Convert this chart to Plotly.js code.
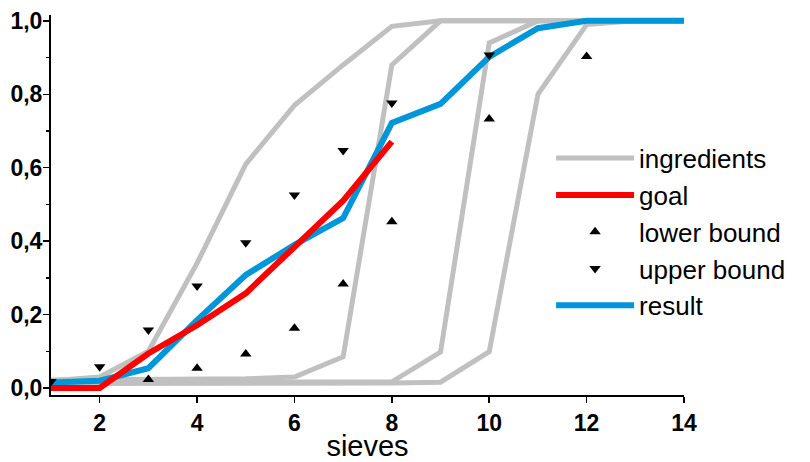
<!DOCTYPE html>
<html>
<head>
<meta charset="utf-8">
<script src="https://cdn.plot.ly/plotly-3.0.1.min.js"></script>
<style>html,body{margin:0;padding:0;background:#fff;}#chart{width:810px;height:462px;}</style>
</head>
<body>
<div id="chart"></div>
<script>
const sieves = [1, 2, 3, 4, 5, 6, 7, 8, 9, 10, 11, 12, 13, 14];
const ingredientA = [0.02, 0.03, 0.10, 0.34, 0.61, 0.77, 0.88, 0.985, 1, 1, 1, 1, 1, 1];
const ingredientB = [0.022, 0.022, 0.022, 0.022, 0.025, 0.03, 0.085, 0.88, 1, 1, 1, 1, 1, 1];
const ingredientC = [0.015, 0.015, 0.015, 0.015, 0.015, 0.015, 0.015, 0.017, 0.098, 0.94, 1, 1, 1, 1];
const ingredientD = [0.012, 0.012, 0.012, 0.012, 0.012, 0.012, 0.012, 0.014, 0.016, 0.099, 0.80, 0.99, 1, 1];
const goalX = [1, 2, 3, 4, 5, 6, 7, 8];
const goal = [0.0, 0.0, 0.094, 0.171, 0.258, 0.385, 0.51, 0.671];
const result = [0.015, 0.02, 0.054, 0.185, 0.308, 0.39, 0.463, 0.722, 0.774, 0.902, 0.98, 1.0, 1.0, 1.0];
const lowerX = [3, 4, 5, 6, 7, 8, 10, 12];
const lower = [0.023, 0.054, 0.093, 0.163, 0.283, 0.453, 0.733, 0.903];
const upperX = [1, 2, 3, 4, 5, 6, 7, 8, 10];
const upper = [0.018, 0.058, 0.158, 0.278, 0.396, 0.526, 0.647, 0.776, 0.907];

const GREY = '#c0c0c0', RED = '#ff0000', BLUE = '#0096d9';
const FONT = '"Liberation Sans", Arial, sans-serif';
const ingredients = [ingredientA, ingredientB, ingredientC, ingredientD];
const traces = ingredients.map((ys, i) => ({
  x: sieves, y: ys, type: 'scatter', mode: 'lines',
  name: 'ingredients', showlegend: i === 0, legendrank: 1,
  line: {color: GREY, width: 5}
}));
traces.push({x: sieves, y: result, type: 'scatter', mode: 'lines', name: 'result', legendrank: 5,
  line: {color: BLUE, width: 6}});
traces.push({x: goalX, y: goal, type: 'scatter', mode: 'lines', name: 'goal', legendrank: 2,
  line: {color: RED, width: 6}});
traces.push({x: lowerX, y: lower, type: 'scatter', mode: 'markers', name: 'lower bound', legendrank: 3,
  marker: {symbol: 'triangle-up', size: 10, color: '#000'}});
traces.push({x: upperX, y: upper, type: 'scatter', mode: 'markers', name: 'upper bound', legendrank: 4,
  marker: {symbol: 'triangle-down', size: 10, color: '#000'}});

const layout = {
  width: 810, height: 462,
  margin: {l: 51, r: 126, t: 15, b: 67},
  paper_bgcolor: '#fff', plot_bgcolor: '#fff',
  separators: ',.',
  font: {family: FONT, color: '#000'},
  xaxis: {
    range: [1, 14], tick0: 2, dtick: 2, showgrid: false, zeroline: false,
    showline: true, linecolor: '#000', linewidth: 2,
    ticks: 'outside', ticklen: 6, tickwidth: 1.5, tickcolor: '#000',
    tickfont: {size: 23, family: FONT, weight: 'bold'},
    title: {text: 'sieves', font: {size: 29, family: FONT}, standoff: 6}
  },
  yaxis: {
    range: [-0.019, 1.016], tick0: 0, dtick: 0.2, tickformat: '.1f', showgrid: false, zeroline: false,
    showline: true, linecolor: '#000', linewidth: 2,
    ticks: 'outside', ticklen: 6, tickwidth: 1.5, tickcolor: '#000',
    ticklabelstandoff: -4,
    tickfont: {size: 23, family: FONT, weight: 'bold'},
    minor: {dtick: 0.1, ticks: 'outside', ticklen: 3, tickwidth: 1.5, tickcolor: '#000', showgrid: false}
  },
  legend: {
    x: 0.79, xanchor: 'left', y: 0.685, yanchor: 'top',
    bgcolor: 'rgba(0,0,0,0)', borderwidth: 0,
    font: {size: 26, family: FONT}, itemwidth: 78, tracegroupgap: 0
  },
  showlegend: true
};
Plotly.newPlot('chart', traces, layout, {displayModeBar: false, staticPlot: true});
</script>
</body>
</html>
